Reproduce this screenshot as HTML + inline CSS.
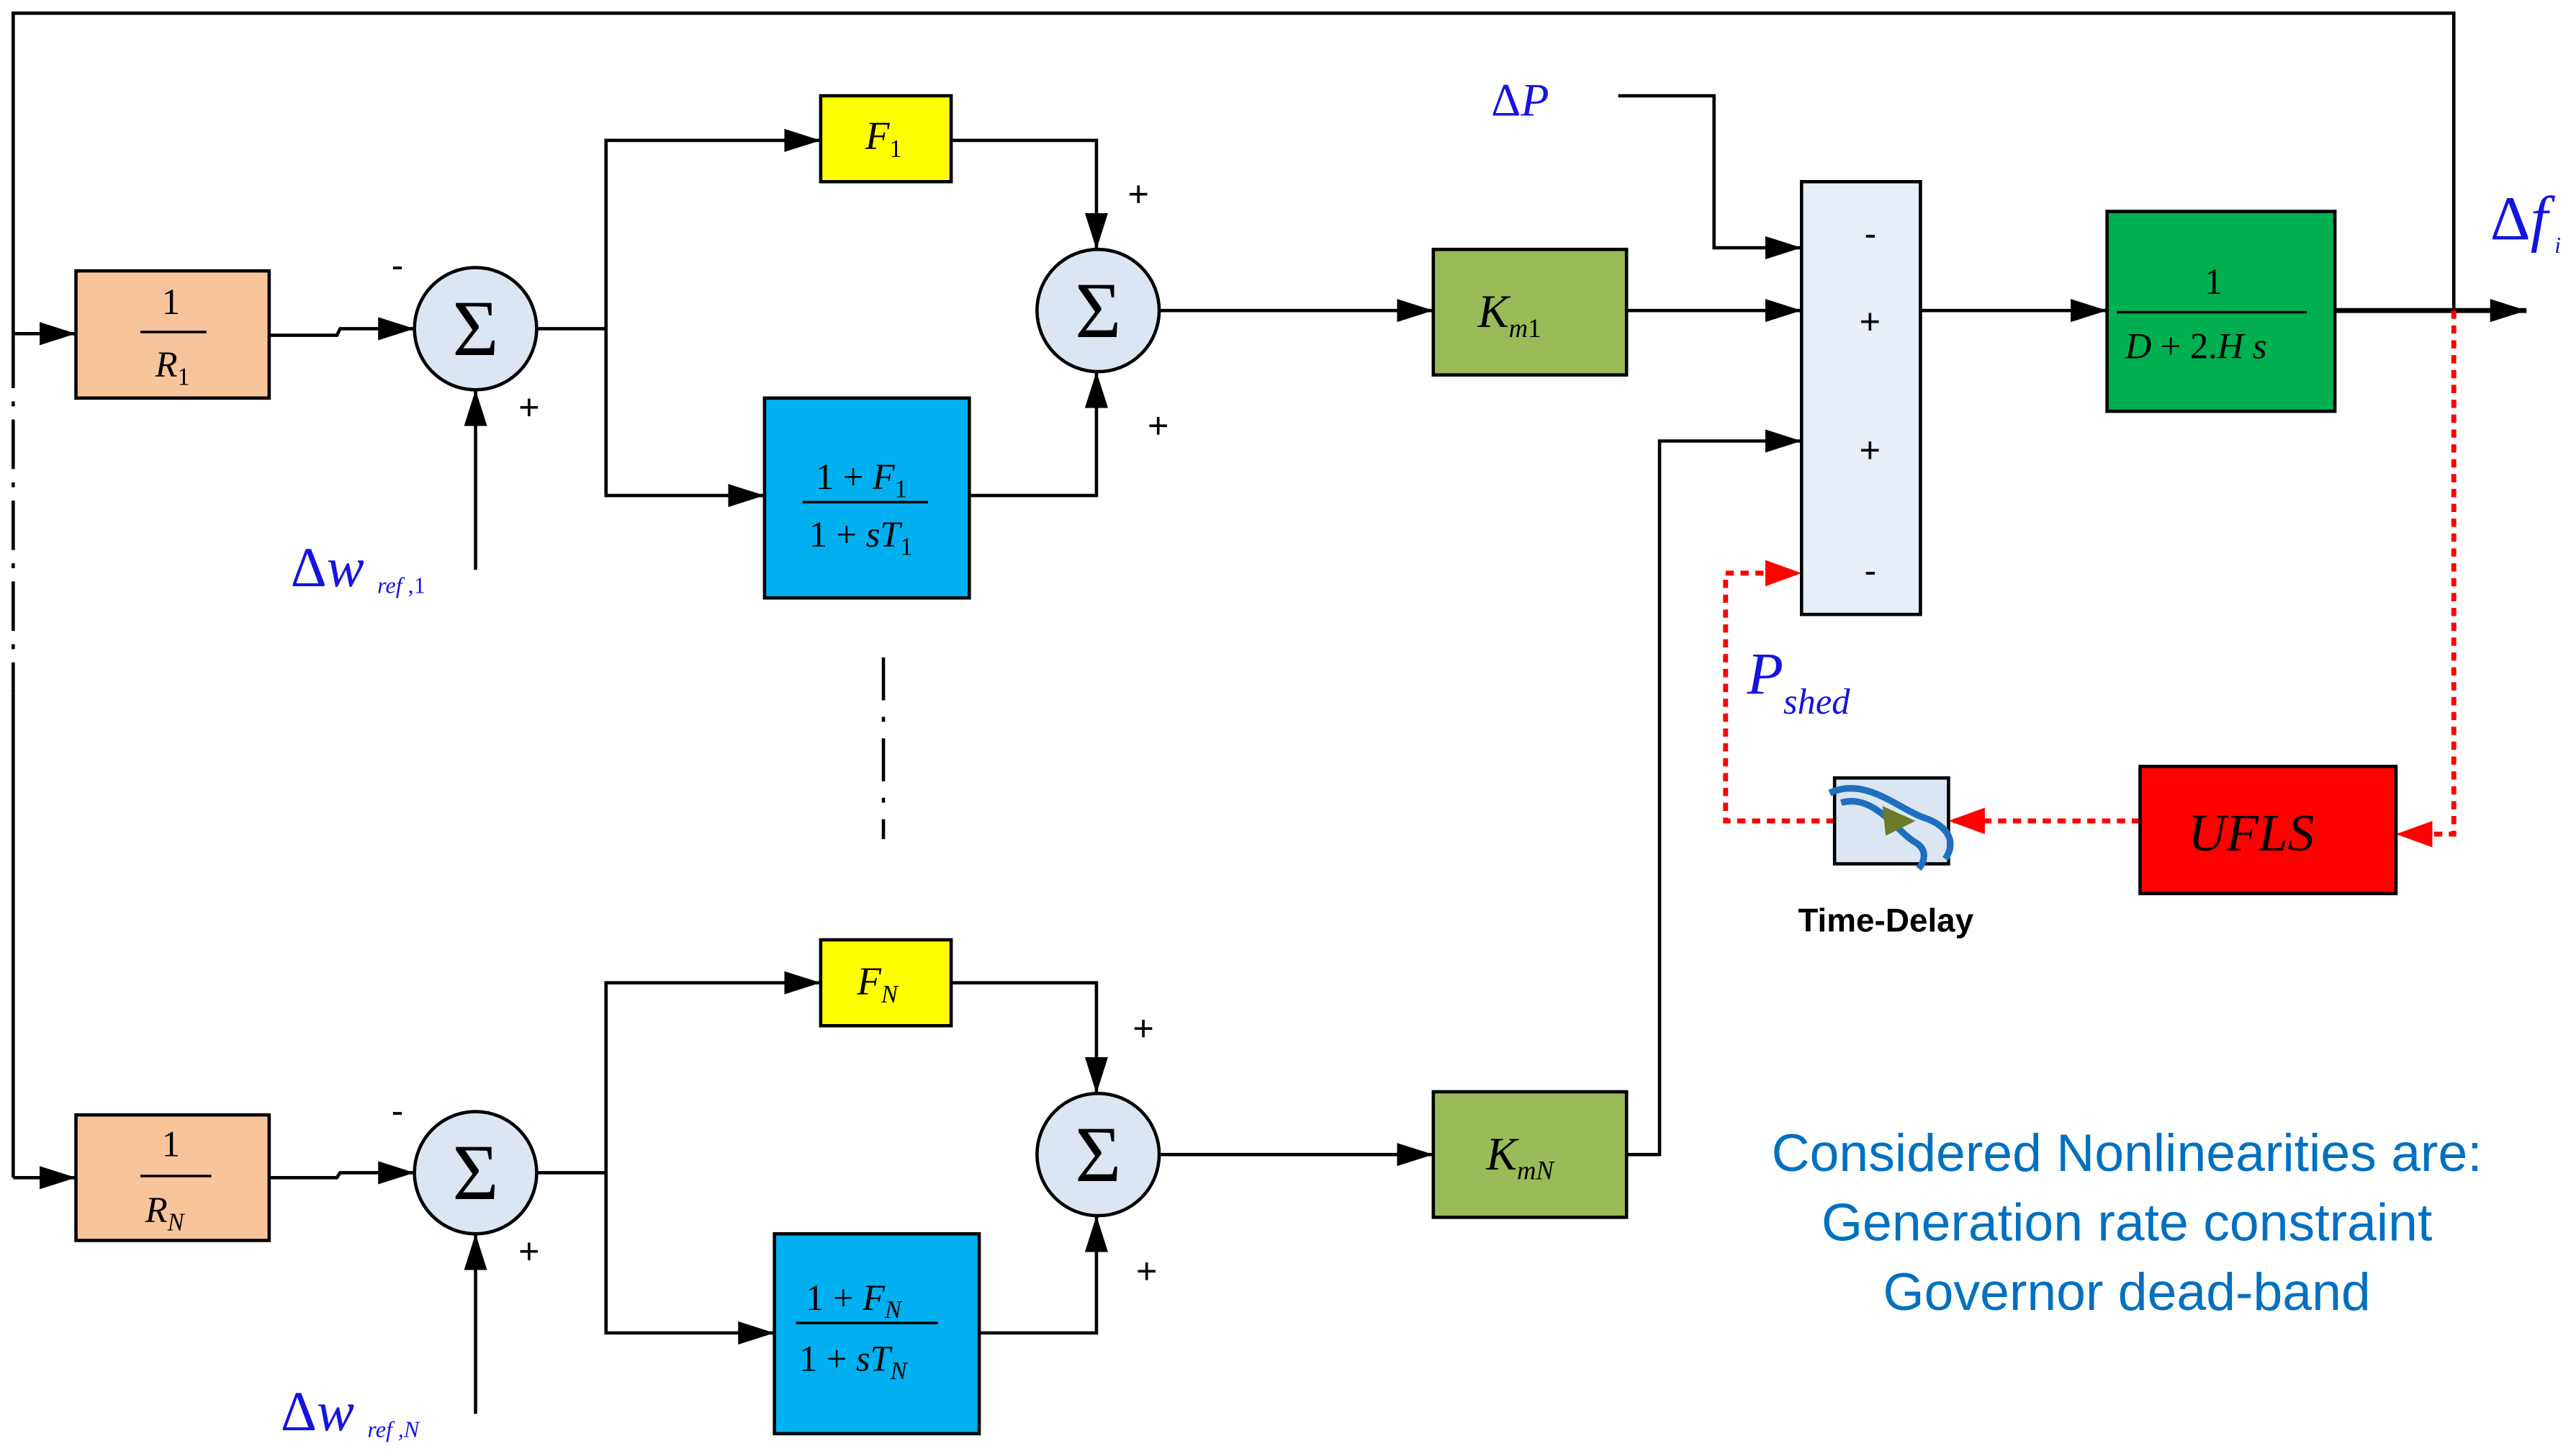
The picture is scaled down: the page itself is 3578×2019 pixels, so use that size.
<!DOCTYPE html>
<html><head><meta charset="utf-8"><style>
html,body{margin:0;padding:0;background:#fff;}
svg{display:block;}
.s{font-family:"Liberation Serif",serif;}
.n{font-family:"Liberation Sans",sans-serif;}
</style></head><body>
<svg width="3578" height="2019" viewBox="0 0 1560 880.3" preserveAspectRatio="none" xmlns="http://www.w3.org/2000/svg">
<defs>
<marker id="ab" viewBox="0 0 10 10" refX="10" refY="5" markerWidth="22" markerHeight="14" orient="auto" markerUnits="userSpaceOnUse" preserveAspectRatio="none"><path d="M0,0 L10,5 L0,10 z" fill="#000"/></marker>
<marker id="ar" viewBox="0 0 10 10" refX="10" refY="5" markerWidth="22" markerHeight="16" orient="auto" markerUnits="userSpaceOnUse" preserveAspectRatio="none"><path d="M0,0 L10,5 L0,10 z" fill="#f00"/></marker>
</defs>
<g stroke="#000" stroke-width="2" fill="none">
<polyline points="1486,188 1486,8 8,8 8,205"/>
<line x1="8" y1="205" x2="8" y2="420" stroke-dasharray="30,8,3,8"/>
<polyline points="8,420 8,713"/>
<line x1="8" y1="202" x2="46" y2="202" marker-end="url(#ab)"/>
<line x1="8" y1="713" x2="46" y2="713" marker-end="url(#ab)"/>
<polyline points="163,203 204,203 206,199 251,199" marker-end="url(#ab)"/>
<line x1="288" y1="345" x2="288" y2="236" marker-end="url(#ab)"/>
<polyline points="325,199 367,199 367,85 497,85" marker-end="url(#ab)"/>
<polyline points="367,199 367,300 463,300" marker-end="url(#ab)"/>
<polyline points="576,85 664,85 664,151" marker-end="url(#ab)"/>
<polyline points="587,300 664,300 664,225" marker-end="url(#ab)"/>
<line x1="702" y1="188" x2="868" y2="188" marker-end="url(#ab)"/>
<line x1="985" y1="188" x2="1091" y2="188" marker-end="url(#ab)"/>
<polyline points="980,58 1038,58 1038,150 1091,150" marker-end="url(#ab)"/>
<line x1="1163" y1="188" x2="1276" y2="188" marker-end="url(#ab)"/>
<line x1="1414" y1="188" x2="1530" y2="188" marker-end="url(#ab)" stroke-width="3"/>
<polyline points="163,713 204,713 206,710 251,710" marker-end="url(#ab)"/>
<line x1="288" y1="856" x2="288" y2="747" marker-end="url(#ab)"/>
<polyline points="325,710 367,710 367,595 497,595" marker-end="url(#ab)"/>
<polyline points="367,710 367,807 469,807" marker-end="url(#ab)"/>
<polyline points="576,595 664,595 664,662" marker-end="url(#ab)"/>
<polyline points="593,807 664,807 664,736" marker-end="url(#ab)"/>
<line x1="702" y1="699" x2="868" y2="699" marker-end="url(#ab)"/>
<polyline points="985,699 1005,699 1005,267 1091,267" marker-end="url(#ab)"/>
<line x1="535" y1="398" x2="535" y2="508" stroke-dasharray="26,10,3,10"/>
</g>
<g stroke="#f00" stroke-width="3" fill="none" stroke-dasharray="5,4">
<polyline points="1486,188 1486,505 1451,505" marker-end="url(#ar)"/>
<line x1="1296" y1="497" x2="1180" y2="497" marker-end="url(#ar)"/>
<polyline points="1111,497 1045,497 1045,347 1091,347" marker-end="url(#ar)"/>
</g>
<g stroke="#000" stroke-width="2">
<rect x="46" y="164" width="117" height="77" fill="#F8C49A"/>
<rect x="46" y="675" width="117" height="76" fill="#F8C49A"/>
<rect x="497" y="58" width="79" height="52" fill="#FFFF00"/>
<rect x="497" y="569" width="79" height="52" fill="#FFFF00"/>
<rect x="463" y="241" width="124" height="121" fill="#00B0F0"/>
<rect x="469" y="747" width="124" height="121" fill="#00B0F0"/>
<circle cx="288" cy="199" r="37" fill="#DCE6F2"/>
<circle cx="288" cy="710" r="37" fill="#DCE6F2"/>
<circle cx="665" cy="188" r="37" fill="#DCE6F2"/>
<circle cx="665" cy="699" r="37" fill="#DCE6F2"/>
<rect x="868" y="151" width="117" height="76" fill="#9BBB59"/>
<rect x="868" y="661" width="117" height="76" fill="#9BBB59"/>
<rect x="1091" y="110" width="72" height="262" fill="#E8EEF8"/>
<rect x="1276" y="128" width="138" height="121" fill="#00B050"/>
<rect x="1296" y="464" width="155" height="77" fill="#FF0000"/>
<rect x="1111" y="471" width="69" height="52" fill="#DCE6F2"/>
</g>
<path d="M1108,480 C1130,470 1150,490 1165,495 C1180,500 1185,510 1178,520" stroke="#1F6FBF" stroke-width="4" fill="none"/>
<path d="M1115,486 C1135,480 1150,505 1160,510 C1168,515 1165,522 1162,526" stroke="#1F6FBF" stroke-width="4" fill="none"/>
<path d="M1140,488 L1160,497 L1142,506 z" fill="#6B7B2A"/>
<g stroke="#000" stroke-width="1.5">
<line x1="85" y1="201" x2="125" y2="201"/>
<line x1="85" y1="712" x2="128" y2="712"/>
<line x1="486" y1="304" x2="562" y2="304"/>
<line x1="482" y1="801" x2="568" y2="801"/>
<line x1="1282" y1="189" x2="1397" y2="189"/>
</g>
<g class="s" font-style="italic" font-size="22" fill="#000">
<text x="98" y="190" font-style="normal">1</text>
<text x="94" y="228">R<tspan font-size="15" dy="5" font-style="normal">1</tspan></text>
<text x="98" y="700" font-style="normal">1</text>
<text x="88" y="740">R<tspan font-size="15" dy="5">N</tspan></text>
<text x="524" y="90" font-size="24">F<tspan font-size="15" dy="5" font-style="normal">1</tspan></text>
<text x="519" y="602" font-size="24">F<tspan font-size="15" dy="5">N</tspan></text>
<text x="494" y="296"><tspan font-style="normal">1 + </tspan>F<tspan font-size="15" dy="5" font-style="normal">1</tspan></text>
<text x="490" y="331"><tspan font-style="normal">1 + </tspan>sT<tspan font-size="15" dy="5" font-style="normal">1</tspan></text>
<text x="488" y="793"><tspan font-style="normal">1 + </tspan>F<tspan font-size="15" dy="5">N</tspan></text>
<text x="484" y="830"><tspan font-style="normal">1 + </tspan>sT<tspan font-size="15" dy="5">N</tspan></text>
<text x="895" y="198" font-size="28">K<tspan font-size="16" dy="6">m</tspan><tspan font-size="16" font-style="normal">1</tspan></text>
<text x="900" y="708" font-size="28">K<tspan font-size="16" dy="6">mN</tspan></text>
<text x="1335" y="178" font-style="normal">1</text>
<text x="1287" y="217">D<tspan font-style="normal"> + 2.</tspan>H s</text>
<text x="1325" y="515" font-size="32">UFLS</text>
</g>
<g class="s" font-size="48" text-anchor="middle" fill="#000">
<text x="288" y="215">Σ</text><text x="288" y="726">Σ</text>
<text x="665" y="204">Σ</text><text x="665" y="715">Σ</text>
</g>
<g class="n" font-size="22" fill="#000">
<text x="237" y="168">-</text><text x="314" y="254">+</text>
<text x="683" y="125">+</text><text x="695" y="265">+</text>
<text x="237" y="680">-</text><text x="314" y="765">+</text>
<text x="686" y="630">+</text><text x="688" y="777">+</text>
<text x="1129" y="149">-</text><text x="1126" y="202">+</text>
<text x="1126" y="280">+</text><text x="1129" y="353">-</text>
</g>
<g class="s" fill="#1414E0" font-style="italic">
<text x="176" y="355" font-size="34"><tspan font-style="normal">Δ</tspan>w<tspan font-size="14" dx="8" dy="4">ref</tspan><tspan font-size="14" font-style="normal"> ,1</tspan></text>
<text x="170" y="866" font-size="34"><tspan font-style="normal">Δ</tspan>w<tspan font-size="14" dx="8" dy="4">ref</tspan><tspan font-size="14"> ,N</tspan></text>
<text x="903" y="70" font-size="28"><tspan font-style="normal">Δ</tspan>P</text>
<text x="1508" y="145" font-size="38"><tspan font-style="normal">Δ</tspan>f<tspan font-size="14" dx="4" dy="8">i</tspan></text>
<text x="1058" y="420" font-size="36">P<tspan font-size="22" dy="12">shed</tspan></text>
</g>
<text class="n" x="1142" y="564" font-weight="bold" font-size="20" text-anchor="middle">Time-Delay</text>
<g class="n" font-size="32" fill="#0070C0" text-anchor="middle">
<text x="1288" y="709">Considered Nonlinearities are:</text>
<text x="1288" y="751">Generation rate constraint</text>
<text x="1288" y="793">Governor dead-band</text>
</g>
</svg>
</body></html>
